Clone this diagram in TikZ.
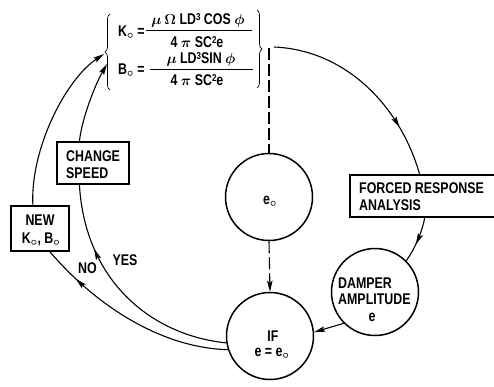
\documentclass[tikz,border=0pt]{standalone}
\usepackage{fontspec}
\setmainfont[FakeStretch=0.8]{Liberation Sans}
\usetikzlibrary{arrows.meta,decorations.markings,decorations.pathreplacing,calc}
\newcommand{\supx}[1]{\raisebox{4.5pt}{\fontsize{10}{10}\selectfont #1}}
\tikzset{
  lbl/.style={font=\bfseries\boldmath\fontsize{15.5}{17}\selectfont, inner sep=0pt, text height=11pt, text depth=0pt},
  ln/.style={line width=1.1pt},
  bub/.style={circle, draw, line width=1.5pt, minimum size=87pt, inner sep=0pt},
  boxx/.style={draw, line width=1.5pt, inner sep=0pt},
  tipx/.style={-{Stealth[length=11pt,width=5.5pt,inset=2pt]}},
  midarr/.style={postaction={decorate}, decoration={markings, mark=at position #1 with {\arrow{Stealth[length=11pt,width=5.5pt,inset=2pt]}}}},
  dsh/.style={ln, dash pattern=on 12pt off 4pt},
  brc/.style={decorate, decoration={brace, amplitude=5pt}, line width=0.7pt},
  fline/.style={line width=1pt},
}
\begin{document}
\begin{tikzpicture}[x=1pt,y=-1pt]
\useasboundingbox (0,0) rectangle (494,386);

% equations
\node[lbl, anchor=west] (kq) at (118,31) {K$_\circ$ =};
\node[lbl] (n1) at (198,19) {$\mu\,\Omega$ LD\supx{3} COS $\phi$};
\coordinate (f1a) at (146,30);
\coordinate (f1b) at (252,30);
\draw[fline] (f1a) -- (f1b);
\node[lbl] (d1) at (197,42) {4 $\pi$ SC\supx{2}e};
\node[lbl, anchor=west] (bq) at (118,69) {B$_\circ$ =};
\node[lbl] (n2) at (201,58) {$\mu$ LD\supx{3}SIN $\phi$};
\coordinate (f2a) at (150,69);
\coordinate (f2b) at (253,69);
\draw[fline] (f2a) -- (f2b);
\node[lbl] (d2) at (197,80) {4 $\pi$ SC\supx{2}e};
\draw[brc] (110,90) -- (110,14);
\draw[brc] (257,10) -- (257,88);
\coordinate (tipA) at (104,54);
\coordinate (tipB) at (107,64);

% circles
\node[bub] (eo) at (269,197) {};
\node[lbl] (eot) at (270,198.5) {e$_\circ$};
\node[bub] (if) at (270,336) {};
\node[lbl] (ift1) at (273,336) {IF};
\node[lbl] (ift2) at (272,351) {e = e$_\circ$};
\node[bub] (damp) at (375,292) {};
\node[lbl, anchor=west] (dt1) at (338,283) {DAMPER};
\node[lbl, anchor=west] (dt2) at (338,299) {AMPLITUDE};
\node[lbl] (dt3) at (372,316) {e};

% forced response box (runs off the right edge)
\node[minimum width=144pt, minimum height=42pt, inner sep=0pt] (far) at (422,196) {};
\draw[line width=1.5pt] (far.north east) -- (far.north west) -- (far.south west) -- (far.south east);
\node[lbl, anchor=west] (fr1) at (359,188) {FORCED RESPONSE};
\node[lbl, anchor=west] (fr2) at (359,205) {ANALYSIS};

% boxes on the left
\node[boxx, minimum width=58pt, minimum height=45pt] (new) at (40,228.5) {};
\node[lbl] (newt1) at (40,220) {NEW};
\node[lbl] (newt2) at (41,238) {K$_\circ$, B$_\circ$};
\node[boxx, minimum width=72pt, minimum height=42pt] (chg) at (93,163) {};
\node[lbl, anchor=west] (chgt1) at (66,156) {CHANGE};
\node[lbl, anchor=west] (chgt2) at (66,173) {SPEED};

\node[lbl] (nol) at (87.5,268) {NO};
\node[lbl] (yesl) at (125,260) {YES};

% connectors
\coordinate (dtop) at (269,48);
\coordinate (arcstart) at (274,47);
\draw[dsh] (dtop) -- (eo.north);
\draw[dsh, tipx] (eo.south) -- (if.north);
\draw[ln, midarr=0.75] (arcstart) .. controls (345,50) and (400,105) .. ($(far.north west)+(70,0)$);
\draw[ln, midarr=0.6] ($(far.south west)+(75,0)$) .. controls (422,233) and (414,250) .. (damp.45);
\draw[ln, tipx] (damp.225) -- (if.5);
\draw[ln, midarr=0.72] (if.189) .. controls (150,335) and (85,280) .. (chg.238);
\draw[ln, midarr=0.82] (if.198) .. controls (165,348) and (100,310) .. (new.293);
\draw[ln, tipx] (new.107) .. controls (30,150) and (65,80) .. (tipA);
\draw[ln, tipx] (chg.122) .. controls (82,118) and (95,85) .. (tipB);
\end{tikzpicture}
\end{document}
